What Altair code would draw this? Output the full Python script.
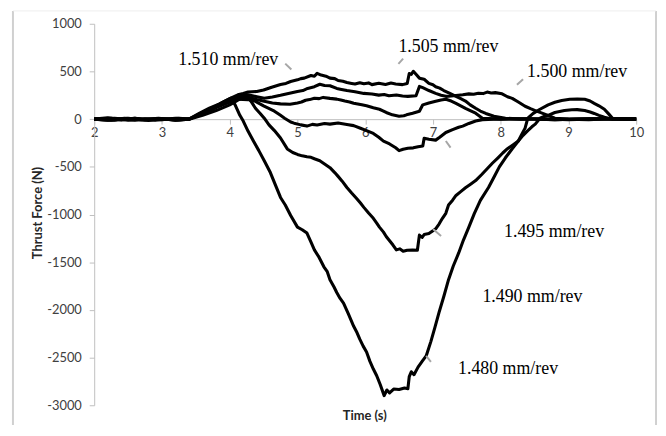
import altair as alt
import pandas as pd

X_TICKS = [2, 3, 4, 5, 6, 7, 8, 9, 10]
Y_TICKS = [1000, 500, 0, -500, -1000, -1500, -2000, -2500, -3000]

S1510 = [(2.0,0),(2.2,15),(2.4,-10),(2.6,10),(2.8,-15),(3.0,5),(3.2,-10),(3.4,0),(3.55,60),(3.7,115),(3.85,160),(4.0,215),(4.12,255),(4.2,270),(4.27,285),(4.4,290),(4.5,305),(4.62,335),(4.75,364),(4.83,375),(4.9,395),(5.0,412),(5.05,425),(5.1,430),(5.2,458),(5.25,450),(5.29,480),(5.35,462),(5.42,450),(5.48,430),(5.55,425),(5.6,405),(5.67,398),(5.73,385),(5.8,375),(5.85,368),(5.92,382),(5.98,372),(6.05,380),(6.1,362),(6.2,376),(6.3,364),(6.38,378),(6.45,368),(6.55,362),(6.62,374),(6.65,478),(6.68,470),(6.71,502),(6.75,470),(6.8,430),(6.87,418),(6.94,375),(7.0,360),(7.04,340),(7.1,325),(7.16,300),(7.25,270),(7.34,239),(7.41,215),(7.48,190),(7.55,150),(7.63,114),(7.7,85),(7.78,60),(7.9,31),(8.07,10),(8.3,0),(8.6,5),(9.0,-5),(9.5,5),(10.0,0)]

S1500 = [(2.0,0),(2.3,-10),(2.6,10),(2.9,-10),(3.2,10),(3.4,0),(3.58,50),(3.78,120),(3.93,180),(4.12,240),(4.2,262),(4.27,255),(4.4,235),(4.51,218),(4.63,232),(4.75,250),(4.9,275),(5.0,291),(5.08,300),(5.15,322),(5.25,340),(5.33,366),(5.4,352),(5.48,350),(5.58,322),(5.65,312),(5.73,300),(5.85,288),(5.98,270),(6.1,264),(6.2,252),(6.28,258),(6.35,246),(6.46,254),(6.55,242),(6.63,239),(6.75,245),(6.8,343),(6.85,330),(6.94,300),(7.04,270),(7.12,250),(7.19,239),(7.27,242),(7.34,248),(7.44,255),(7.53,265),(7.6,262),(7.67,272),(7.74,268),(7.8,284),(7.86,275),(7.92,278),(8.02,266),(8.1,235),(8.17,218),(8.26,180),(8.36,135),(8.44,110),(8.51,90),(8.65,52),(8.8,10),(9.0,0),(9.3,-5),(9.6,5),(10.0,0)]

S1505 = [(2.0,0),(2.25,10),(2.5,-10),(2.75,5),(3.0,-5),(3.25,10),(3.4,0),(3.6,40),(3.8,90),(4.0,150),(4.12,200),(4.2,225),(4.27,230),(4.4,205),(4.51,187),(4.63,170),(4.75,160),(4.89,156),(5.0,170),(5.06,180),(5.12,198),(5.18,205),(5.25,220),(5.32,215),(5.38,228),(5.48,218),(5.58,210),(5.64,200),(5.7,190),(5.77,180),(5.83,166),(5.95,150),(6.02,140),(6.12,120),(6.21,104),(6.27,85),(6.31,70),(6.4,45),(6.5,31),(6.57,35),(6.61,45),(6.7,62),(6.8,83),(6.85,150),(6.94,170),(7.04,187),(7.12,200),(7.19,208),(7.27,190),(7.34,166),(7.41,140),(7.48,114),(7.55,90),(7.63,62),(7.73,10),(8.0,0),(8.4,5),(8.8,-5),(9.3,5),(10.0,0)]

S1495 = [(2.0,0),(2.2,-10),(2.45,10),(2.7,-5),(2.95,10),(3.2,-10),(3.4,0),(3.6,60),(3.8,120),(4.0,180),(4.12,210),(4.27,205),(4.38,187),(4.5,140),(4.66,83),(4.75,40),(4.81,10),(4.9,-30),(4.95,-42),(5.05,-60),(5.14,-73),(5.22,-55),(5.29,-62),(5.4,-45),(5.48,-52),(5.6,-40),(5.73,-55),(5.83,-68),(5.93,-95),(6.02,-120),(6.12,-150),(6.2,-190),(6.27,-230),(6.36,-260),(6.45,-300),(6.5,-330),(6.56,-315),(6.63,-305),(6.71,-301),(6.78,-290),(6.85,-281),(6.87,-200),(6.94,-210),(7.04,-220),(7.1,-190),(7.19,-140),(7.29,-110),(7.38,-85),(7.44,-73),(7.53,-45),(7.63,-20),(7.73,-5),(7.9,0),(8.3,5),(8.8,-5),(9.3,5),(10.0,0)]

S1490 = [(2.0,0),(2.25,-10),(2.5,10),(2.75,-10),(3.0,5),(3.25,-5),(3.4,0),(3.6,60),(3.8,130),(4.0,200),(4.12,240),(4.27,230),(4.33,170),(4.38,114),(4.45,60),(4.51,10),(4.58,-60),(4.66,-120),(4.75,-197),(4.85,-312),(4.93,-350),(5.0,-370),(5.07,-385),(5.14,-395),(5.2,-400),(5.25,-415),(5.33,-436),(5.4,-470),(5.48,-509),(5.55,-560),(5.6,-600),(5.66,-650),(5.73,-717),(5.8,-775),(5.87,-830),(5.93,-880),(5.98,-925),(6.05,-985),(6.12,-1040),(6.17,-1090),(6.21,-1132),(6.27,-1185),(6.31,-1230),(6.36,-1275),(6.41,-1320),(6.46,-1371),(6.51,-1360),(6.56,-1385),(6.62,-1375),(6.7,-1372),(6.77,-1375),(6.8,-1216),(6.84,-1240),(6.87,-1210),(6.94,-1200),(7.0,-1170),(7.04,-1150),(7.09,-1100),(7.14,-1040),(7.19,-987),(7.23,-900),(7.29,-850),(7.34,-800),(7.41,-760),(7.48,-720),(7.56,-680),(7.63,-644),(7.72,-580),(7.8,-520),(7.88,-460),(7.96,-405),(8.03,-355),(8.1,-310),(8.18,-270),(8.26,-229),(8.33,-170),(8.4,-120),(8.46,-80),(8.51,-52),(8.58,10),(8.65,30),(8.7,40),(8.8,70),(8.94,90),(9.05,98),(9.13,100),(9.24,90),(9.32,75),(9.38,60),(9.45,40),(9.53,20),(9.65,0),(9.8,5),(10.0,0)]

S1480 = [(2.0,0),(2.3,10),(2.6,-10),(2.9,5),(3.2,-5),(3.4,0),(3.6,70),(3.8,140),(3.93,190),(4.02,220),(4.08,150),(4.15,40),(4.2,-20),(4.27,-125),(4.35,-230),(4.43,-330),(4.51,-436),(4.6,-560),(4.68,-700),(4.75,-821),(4.82,-900),(4.9,-1010),(5.0,-1132),(5.07,-1160),(5.14,-1195),(5.2,-1290),(5.25,-1371),(5.32,-1450),(5.39,-1548),(5.44,-1600),(5.48,-1683),(5.54,-1760),(5.58,-1818),(5.63,-1880),(5.68,-1930),(5.75,-2040),(5.83,-2172),(5.88,-2240),(5.92,-2307),(5.97,-2380),(6.02,-2442),(6.07,-2540),(6.12,-2620),(6.17,-2691),(6.22,-2780),(6.28,-2899),(6.32,-2840),(6.36,-2870),(6.42,-2830),(6.5,-2835),(6.58,-2820),(6.63,-2826),(6.65,-2700),(6.68,-2649),(6.72,-2680),(6.78,-2600),(6.84,-2540),(6.9,-2483),(6.97,-2330),(7.03,-2180),(7.09,-2026),(7.16,-1860),(7.23,-1683),(7.3,-1540),(7.38,-1403),(7.45,-1268),(7.53,-1132),(7.61,-990),(7.7,-852),(7.82,-717),(7.9,-610),(7.98,-500),(8.07,-405),(8.17,-310),(8.26,-229),(8.31,-160),(8.36,-94),(8.4,10),(8.48,60),(8.58,104),(8.7,150),(8.8,177),(8.9,195),(9.02,208),(9.13,212),(9.24,208),(9.32,190),(9.38,166),(9.45,140),(9.53,104),(9.6,50),(9.65,10),(9.8,0),(10.0,5)]

SERIES = {
    "1.510 mm/rev": S1510,
    "1.505 mm/rev": S1505,
    "1.500 mm/rev": S1500,
    "1.495 mm/rev": S1495,
    "1.490 mm/rev": S1490,
    "1.480 mm/rev": S1480,
}

LABELS = ["1.510 mm/rev", "1.505 mm/rev", "1.500 mm/rev", "1.495 mm/rev", "1.490 mm/rev", "1.480 mm/rev"]
LABEL_T = [3.24, 6.49, 8.39, 8.05, 7.73, 7.37]
LABEL_F = [571, 707, 447, -1236, -1922, -2670]

LEADER_T1 = [4.82, 6.49, 8.24, 7.19, 7.00, 6.90]
LEADER_F1 = [582, 579, 360, -229, -1153, -2483]
LEADER_T2 = [4.91, 6.56, 8.33, 7.26, 7.12, 6.97]
LEADER_F2 = [520, 634, 419, -298, -1226, -2546]

rows = []
for name, pts in SERIES.items():
    for i, (t, f) in enumerate(pts):
        rows.append({"series": name, "t": t, "F": f, "i": i})
df = pd.DataFrame(rows)

lab_df = pd.DataFrame({"label": LABELS, "t": LABEL_T, "F": LABEL_F})
lead_df = pd.DataFrame({"t": LEADER_T1, "F": LEADER_F1, "t2": LEADER_T2, "F2": LEADER_F2})

xscale = alt.Scale(domain=[2, 10], nice=False, zero=False)
yscale = alt.Scale(domain=[-3000, 1000], nice=False, zero=False)

x_axis = alt.Axis(values=X_TICKS, offset=-288.75, title=None, labelPadding=3,
                  labelFlush=False, grid=False, labelExpr="datum.value + ''")
y_axis = alt.Axis(values=Y_TICKS, title=None, labelPadding=8, grid=False,
                  labelExpr="datum.value + ''")

X = alt.X("t:Q", scale=xscale, axis=x_axis)
Y = alt.Y("F:Q", scale=yscale, axis=y_axis)

lines = alt.Chart(df).mark_line(color="black", strokeWidth=3.1, strokeJoin="round").encode(
    x=X, y=Y, detail="series:N", order="i:Q"
)

leaders = alt.Chart(lead_df).mark_rule(color="#a6a6a6", strokeWidth=2).encode(
    x=X, y=Y, x2="t2:Q", y2="F2:Q"
)

labels = alt.Chart(lab_df).mark_text(
    font="Liberation Serif", fontSize=18, color="black", align="left", baseline="alphabetic"
).encode(x=X, y=Y, text="label:N")

one = pd.DataFrame({"a": [0]})
xtitle = alt.Chart(one).mark_text(
    text="Time (s)", font="Lato", fontSize=13, fontWeight="bold", color="#262626",
    align="center", baseline="middle"
).encode(x=alt.value(273), y=alt.value(396))
ytitle = alt.Chart(one).mark_text(
    text="Thrust Force (N)", font="Lato", fontSize=13, fontWeight="bold", color="#262626",
    align="center", baseline="middle", angle=270
).encode(x=alt.value(-57), y=alt.value(191))

frame_left = alt.Chart(one).mark_rule(color="#d0d0d0", strokeWidth=2).encode(
    x=alt.value(-82), y=alt.value(-13), y2=alt.value(420))
frame_right = alt.Chart(one).mark_rule(color="#d0d0d0", strokeWidth=2).encode(
    x=alt.value(567), y=alt.value(-13), y2=alt.value(420))
frame_top = alt.Chart(one).mark_rule(color="#eeeeee", strokeWidth=1).encode(
    x=alt.value(-82), x2=alt.value(567), y=alt.value(-13))

chart = alt.layer(
    frame_left, frame_right, frame_top, lines, leaders, labels, xtitle, ytitle
).properties(
    width=547, height=385, autosize="none",
    padding={"left": 87, "top": 14, "right": 22, "bottom": 18},
).configure_view(stroke=None).configure_axis(
    labelFont="Lato", labelFontSize=13, labelColor="#404040",
    domainColor="#bfbfbf", tickColor="#bfbfbf", tickSize=5, domainWidth=1,
)

chart.save("out.html", embed_options={"renderer": "svg", "actions": False})
